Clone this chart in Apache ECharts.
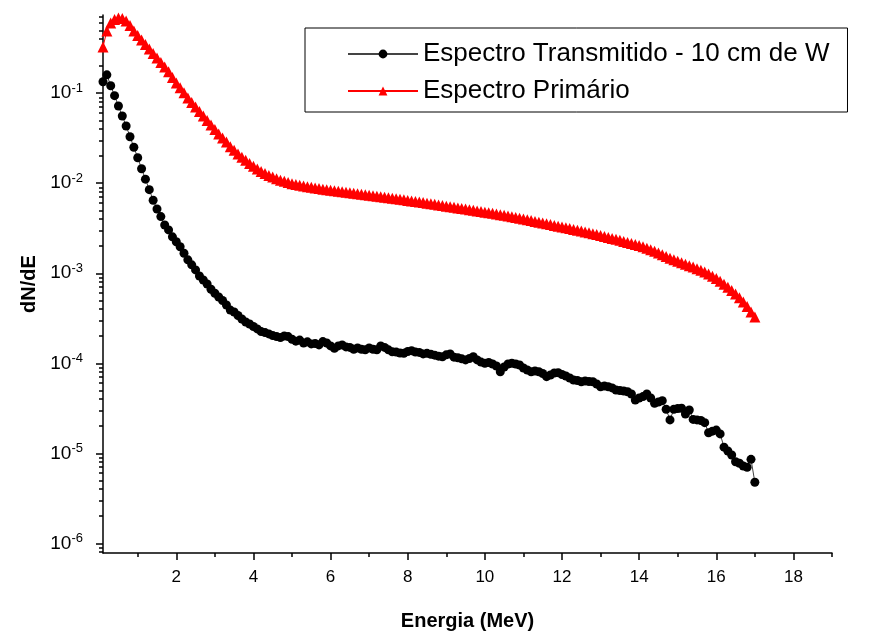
<!DOCTYPE html>
<html>
<head>
<meta charset="utf-8">
<script src="https://cdn.jsdelivr.net/npm/echarts@6.0.0/dist/echarts.min.js"></script>
<style>
html, body { margin: 0; padding: 0; background: #fff; }
#chart { width: 873px; height: 637px; }
</style>
</head>
<body>
<div id="chart"></div>
<script>
// energia (MeV) de cada canal
var energias = [
  0.1, 0.2, 0.3, 0.4, 0.5, 0.6, 0.7, 0.8, 0.9, 1.0,
  1.1, 1.2, 1.3, 1.4, 1.5, 1.6, 1.7, 1.8, 1.9, 2.0,
  2.1, 2.2, 2.3, 2.4, 2.5, 2.6, 2.7, 2.8, 2.9, 3.0,
  3.1, 3.2, 3.3, 3.4, 3.5, 3.6, 3.7, 3.8, 3.9, 4.0,
  4.1, 4.2, 4.3, 4.4, 4.5, 4.6, 4.7, 4.8, 4.9, 5.0,
  5.1, 5.2, 5.3, 5.4, 5.5, 5.6, 5.7, 5.8, 5.9, 6.0,
  6.1, 6.2, 6.3, 6.4, 6.5, 6.6, 6.7, 6.8, 6.9, 7.0,
  7.1, 7.2, 7.3, 7.4, 7.5, 7.6, 7.7, 7.8, 7.9, 8.0,
  8.1, 8.2, 8.3, 8.4, 8.5, 8.6, 8.7, 8.8, 8.9, 9.0,
  9.1, 9.2, 9.3, 9.4, 9.5, 9.6, 9.7, 9.8, 9.9, 10.0,
  10.1, 10.2, 10.3, 10.4, 10.5, 10.6, 10.7, 10.8, 10.9, 11.0,
  11.1, 11.2, 11.3, 11.4, 11.5, 11.6, 11.7, 11.8, 11.9, 12.0,
  12.1, 12.2, 12.3, 12.4, 12.5, 12.6, 12.7, 12.8, 12.9, 13.0,
  13.1, 13.2, 13.3, 13.4, 13.5, 13.6, 13.7, 13.8, 13.9, 14.0,
  14.1, 14.2, 14.3, 14.4, 14.5, 14.6, 14.7, 14.8, 14.9, 15.0,
  15.1, 15.2, 15.3, 15.4, 15.5, 15.6, 15.7, 15.8, 15.9, 16.0,
  16.1, 16.2, 16.3, 16.4, 16.5, 16.6, 16.7, 16.8, 16.9, 17.0
];

// Espectro Transmitido - 10 cm de W
var transmitido = [
  0.134, 0.160, 0.121, 0.0940, 0.0722, 0.0559, 0.0433, 0.0329, 0.0251, 0.0192,
  0.0145, 0.0111, 0.00849, 0.00647, 0.00518, 0.00426, 0.00344, 0.00303, 0.00254, 0.00224,
  0.00197, 0.00167, 0.00141, 0.00124, 0.00109, 9.33e-4, 8.42e-4, 7.60e-4, 6.64e-4, 5.99e-4,
  5.45e-4, 4.98e-4, 4.44e-4, 3.90e-4, 3.71e-4, 3.39e-4, 3.10e-4, 2.87e-4, 2.73e-4, 2.56e-4,
  2.41e-4, 2.25e-4, 2.19e-4, 2.12e-4, 2.03e-4, 1.98e-4, 1.93e-4, 2.01e-4, 1.98e-4, 1.85e-4,
  1.76e-4, 1.81e-4, 1.68e-4, 1.73e-4, 1.64e-4, 1.66e-4, 1.60e-4, 1.74e-4, 1.68e-4, 1.56e-4,
  1.47e-4, 1.56e-4, 1.60e-4, 1.52e-4, 1.50e-4, 1.43e-4, 1.48e-4, 1.43e-4, 1.41e-4, 1.48e-4,
  1.43e-4, 1.41e-4, 1.56e-4, 1.50e-4, 1.41e-4, 1.34e-4, 1.33e-4, 1.30e-4, 1.29e-4, 1.35e-4,
  1.38e-4, 1.33e-4, 1.32e-4, 1.27e-4, 1.29e-4, 1.26e-4, 1.23e-4, 1.20e-4, 1.18e-4, 1.24e-4,
  1.27e-4, 1.17e-4, 1.15e-4, 1.12e-4, 1.09e-4, 1.13e-4, 1.18e-4, 1.09e-4, 1.03e-4, 1.00e-4,
  1.02e-4, 9.82e-5, 9.33e-5, 8.06e-5, 9.10e-5, 9.82e-5, 1.00e-4, 9.82e-5, 9.57e-5, 8.87e-5,
  8.42e-5, 8.06e-5, 8.21e-5, 8.06e-5, 7.70e-5, 7.10e-5, 7.41e-5, 7.80e-5, 7.86e-5, 7.51e-5,
  7.22e-5, 6.86e-5, 6.52e-5, 6.44e-5, 6.24e-5, 6.36e-5, 6.28e-5, 6.24e-5, 5.89e-5, 5.49e-5,
  5.59e-5, 5.49e-5, 5.32e-5, 5.05e-5, 4.98e-5, 4.92e-5, 4.83e-5, 4.56e-5, 3.90e-5, 4.11e-5,
  4.26e-5, 4.56e-5, 4.11e-5, 3.59e-5, 3.71e-5, 3.84e-5, 3.08e-5, 2.35e-5, 3.08e-5, 3.14e-5,
  3.16e-5, 2.73e-5, 3.03e-5, 2.38e-5, 2.35e-5, 2.31e-5, 2.19e-5, 1.69e-5, 1.76e-5, 1.81e-5,
  1.64e-5, 1.17e-5, 1.06e-5, 9.57e-6, 8.06e-6, 7.74e-6, 7.22e-6, 6.99e-6, 8.57e-6, 4.76e-6
];

// Espectro Primário
var primario = [
  0.327, 0.492, 0.604, 0.661, 0.686, 0.678, 0.635, 0.566, 0.492, 0.438,
  0.390, 0.348, 0.310, 0.277, 0.247, 0.219, 0.196, 0.173, 0.150, 0.130,
  0.115, 0.101, 0.0887, 0.0790, 0.0704, 0.0627, 0.0559, 0.0498, 0.0444, 0.0396,
  0.0353, 0.0319, 0.0287, 0.0255, 0.0232, 0.0212, 0.0195, 0.0180, 0.0166, 0.0154,
  0.0144, 0.0135, 0.0128, 0.0122, 0.0117, 0.0112, 0.0108, 0.0105, 0.0102, 0.00990,
  0.00970, 0.00950, 0.00933, 0.00916, 0.00902, 0.00887, 0.00873, 0.00860, 0.00847, 0.00836,
  0.00826, 0.00815, 0.00804, 0.00794, 0.00784, 0.00774, 0.00764, 0.00754, 0.00745, 0.00736,
  0.00726, 0.00717, 0.00708, 0.00699, 0.00690, 0.00681, 0.00672, 0.00664, 0.00654, 0.00644,
  0.00636, 0.00628, 0.00620, 0.00610, 0.00601, 0.00591, 0.00583, 0.00574, 0.00565, 0.00556,
  0.00548, 0.00540, 0.00532, 0.00523, 0.00516, 0.00508, 0.00500, 0.00492, 0.00485, 0.00477,
  0.00470, 0.00463, 0.00456, 0.00448, 0.00440, 0.00432, 0.00425, 0.00417, 0.00409, 0.00401,
  0.00393, 0.00385, 0.00377, 0.00369, 0.00362, 0.00355, 0.00347, 0.00340, 0.00333, 0.00327,
  0.00320, 0.00314, 0.00307, 0.00301, 0.00295, 0.00288, 0.00281, 0.00275, 0.00269, 0.00262,
  0.00256, 0.00250, 0.00244, 0.00238, 0.00232, 0.00226, 0.00220, 0.00214, 0.00209, 0.00203,
  0.00197, 0.00190, 0.00183, 0.00176, 0.00168, 0.00161, 0.00154, 0.00147, 0.00141, 0.00136,
  0.00131, 0.00126, 0.00121, 0.00117, 0.00112, 0.00108, 0.00103, 0.000980, 0.000928, 0.000873,
  0.000815, 0.000756, 0.000699, 0.000642, 0.000589, 0.000534, 0.000480, 0.000426, 0.000371, 0.000327
];

var xTicks = [2, 4, 6, 8, 10, 12, 14, 16, 18];
var xMinorTicks = [1, 3, 5, 7, 9, 11, 13, 15, 17, 19];
var xMin = 0.1, xMax = 19;
var yMin = 7.8e-7, yMax = 0.74;

var fonte = 'Arial, "Liberation Sans", sans-serif';

function pares(ys) {
  return energias.map(function (e, i) { return [e, ys[i]]; });
}

// marcas menores do eixo log (2..9 x 10^n), num eixo linear em log10
var yMinorTicks = [];
for (var n = -7; n <= 0; n++) {
  for (var k = 2; k <= 9; k++) {
    var v = k * Math.pow(10, n);
    if (v > yMin && v < yMax) yMinorTicks.push(Math.log10(v));
  }
}

var chart = echarts.init(document.getElementById('chart'));

var option = {
  animation: false,
  backgroundColor: '#fff',
  grid: { left: 103, right: 41, top: 15, bottom: 84 },
  legend: {
    orient: 'vertical',
    left: 305,
    top: 28,
    padding: [13, 18, 8, 42],
    itemGap: 11,
    itemWidth: 70,
    itemHeight: 11,
    borderColor: '#000',
    borderWidth: 1,
    textStyle: { fontFamily: fonte, fontSize: 26, color: '#000' },
    data: ['Espectro Transmitido - 10 cm de W', 'Espectro Primário']
  },
  xAxis: [
    {
      type: 'value',
      min: xMin,
      max: xMax,
      name: 'Energia (MeV)',
      nameLocation: 'middle',
      nameGap: 58,
      nameTextStyle: { fontFamily: fonte, fontSize: 20, fontWeight: 'bold', color: '#000' },
      axisLine: { lineStyle: { color: '#000', width: 1.5 } },
      axisTick: { customValues: xTicks, length: 7, lineStyle: { color: '#000', width: 1.5 } },
      axisLabel: { customValues: xTicks, margin: 16, fontFamily: fonte, fontSize: 17, color: '#000' },
      splitLine: { show: false }
    },
    {
      type: 'value',
      min: xMin,
      max: xMax,
      position: 'bottom',
      axisLine: { show: false },
      axisTick: { customValues: xMinorTicks, length: 4, lineStyle: { color: '#000', width: 1.5 } },
      axisLabel: { show: false },
      splitLine: { show: false }
    }
  ],
  yAxis: [
    {
      type: 'log',
      logBase: 10,
      min: yMin,
      max: yMax,
      name: 'dN/dE',
      nameLocation: 'middle',
      nameGap: 63,
      nameTextStyle: { fontFamily: fonte, fontSize: 20, fontWeight: 'bold', color: '#000' },
      axisLine: { show: true, lineStyle: { color: '#000', width: 1.5 } },
      axisTick: { length: 7, lineStyle: { color: '#000', width: 1.5 } },
      axisLabel: {
        margin: 20,
        showMinLabel: false,
        showMaxLabel: false,
        formatter: function (val) {
          var e = Math.round(Math.log10(val));
          return '{b|10}{s|' + e + '}';
        },
        rich: {
          b: { fontFamily: fonte, fontSize: 19, color: '#000' },
          s: { fontFamily: fonte, fontSize: 13, color: '#000', verticalAlign: 'top', padding: [0, 0, 10, 0] }
        }
      },
      splitLine: { show: false }
    },
    {
      type: 'value',
      min: Math.log10(yMin),
      max: Math.log10(yMax),
      position: 'left',
      axisLine: { show: false },
      axisTick: { customValues: yMinorTicks, length: 4, lineStyle: { color: '#000', width: 1.5 } },
      axisLabel: { show: false },
      splitLine: { show: false }
    }
  ],
  series: [
    {
      name: 'Espectro Transmitido - 10 cm de W',
      type: 'line',
      data: pares(transmitido),
      symbol: 'circle',
      symbolSize: 9,
      showAllSymbol: true,
      itemStyle: { color: '#000' },
      lineStyle: { color: '#444', width: 1 }
    },
    {
      name: 'Espectro Primário',
      type: 'line',
      data: pares(primario),
      symbol: 'triangle',
      symbolSize: 11,
      showAllSymbol: true,
      itemStyle: { color: '#ff0000' },
      lineStyle: { color: '#ff0000', width: 1 }
    }
  ]
};

chart.setOption(option);
</script>
</body>
</html>
